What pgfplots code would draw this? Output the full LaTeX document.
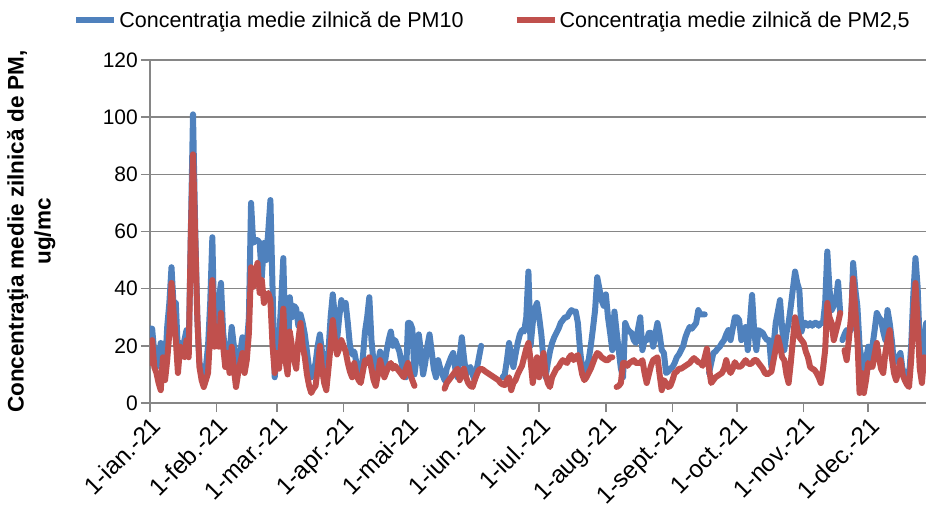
\documentclass[border=0pt]{standalone}
\usepackage{fontspec}
\setmainfont{Liberation Sans}
\usepackage{pgfplots}
\usepackage{pgfplotstable}
\pgfplotsset{compat=1.18}
\definecolor{pmblue}{HTML}{4F81BD}
\definecolor{pmred}{HTML}{C0504D}
\definecolor{gridgray}{HTML}{868686}

\pgfplotstableread{
day val
0 26
1 26
2 17.5
3 12.6
4 15
5 21
6 16
7 12.6
8 26.6
9 35
10 47.5
11 33.7
12 35
13 17.5
14 21
15 18
16 22
17 25.5
18 18.5
19 60
20 101
21 62
22 30
23 14
24 11.6
25 9
26 12.6
27 20
28 35
29 58
30 21
31 28
32 36
33 42
34 25
35 17.5
36 20
37 17.5
38 26.6
39 20
40 16
41 10.5
42 18
43 23
44 17.5
45 20
46 30
47 70
48 56
49 57
50 57
51 56
52 44
53 56
54 50
55 60
56 71
57 40
58 9
59 17.5
60 22
61 35
62 50.7
63 20
64 11
65 37
66 30
67 34
68 33
69 27
70 31
71 28
72 24
73 18
74 12
75 9
76 11
77 14
78 20
79 24
80 18
81 14
82 10
83 18
84 30
85 38
86 30
87 22
88 30
89 36
90 33
91 35
92 28
93 20
94 17
95 18
96 14
97 12
98 9
99 16
100 25
101 30
102 37
103 22
104 14
105 10
106 14
107 18
108 15
109 13
110 18
111 22
112 25
113 20
114 22
115 20
116 18
117 14
118 10
119 9
120 28
121 28
122 26
123 10
124 16
125 24
126 18
127 10
128 14
129 20
130 24
131 18
132 12
133 9
134 15
135 12
136 10
137 8
138 12
139 14
140 16
141 17.5
142 12
143 9
144 16
145 23
146 16
147 10
148 12
149 12.6
150 10
151 8
152 12
153 16
154 20
155 nan
164 9
165 10
166 15
167 21
168 16
169 12.6
170 17
171 21
172 24
173 25.5
174 25
175 30
176 46
177 20
178 28
179 33
180 35
181 30
182 24
183 15
184 9
185 14
186 18
187 21
188 23
189 24.5
190 26
191 28
192 29
193 30
194 30
195 31.5
196 32.5
197 32
198 32
199 28
200 18.5
201 12
202 10.5
203 13
204 15
205 20
206 26
207 32.5
208 44
209 40
210 36
211 34
212 38
213 30
214 24.5
215 18.5
216 32
217 25
218 18.5
219 12
220 9
221 28
222 26
223 25
224 24.5
225 22
226 21
227 26
228 30
229 18.5
230 22
231 22
232 24.5
233 24.5
234 19.7
235 24
236 28
237 24
238 18.5
239 17.5
240 10.5
241 11
242 12
243 12.6
244 14
245 16
246 17
247 18.5
248 20
249 23
250 25
251 26.6
252 26
253 27
254 28
255 32.5
256 31
257 31
258 31
259 nan
260 10.5
261 14
262 17.5
263 18
264 19
265 19.7
266 21
267 22
268 24
269 25.5
270 22
271 26
272 30
273 30
274 29
275 22
276 24
277 26.6
278 18.5
279 28
280 37.8
281 25
282 18.5
283 25.5
284 25
285 24.5
286 23
287 22
288 22
289 12.6
290 20
291 28
292 32
293 36
294 26
295 18.5
296 24.5
297 28
298 33.7
299 40
300 46
301 42
302 39.5
303 25
304 28
305 28
306 27
307 28
308 27
309 28
310 28
311 27
312 28
313 28
314 35
315 53
316 40
317 32.5
318 34
319 36
320 42.4
321 31.5
321.5 nan
322 22
323 24
324 25.5
325 25
326 25.5
327 49
328 40
329 33.7
330 20
331 15
332 10.5
333 15
334 19.7
335 12.6
336 20
337 25.5
338 31.5
339 30
340 29
341 25
342 22
343 32.5
344 28
345 22
346 14
347 15
348 16
349 17.5
350 11.6
351 11
352 10.5
353 9
354 20
355 38
356 50.7
357 40.6
358 20
359 10.5
360 22
361 28
}\pmten

\pgfplotstableread{
day val
0 14
1 22
2 12.6
3 10.5
4 7
5 4.5
6 16
7 8
8 15
9 24.5
10 42
11 31.5
12 22
13 10.5
14 19.7
15 17
16 16
17 22
18 16
19 59
20 87
21 59
22 30
23 12.6
24 8
25 5.6
26 8
27 10.5
28 24.5
29 43
30 19.7
31 26.6
32 19.7
33 31.5
34 20
35 12.6
36 17.5
37 10.5
38 19.7
39 12
40 5.6
41 10.5
42 14
43 17.5
44 10.5
45 15
46 24.5
47 47.5
48 40.6
49 45
50 49
51 38.5
52 43
53 35
54 37
55 38.5
56 36
57 20
58 10.5
59 17.5
60 12
61 20
62 33
63 15
64 10
65 25
66 20
67 15
68 12
69 22
70 28
71 20
72 16
73 10
74 6
75 3.5
76 5
77 6
78 12
79 20
80 12
81 7
82 4.5
83 12
84 20
85 29
86 22
87 17
88 19
89 22
90 20
91 18
92 14
93 11
94 9
95 14
96 10
97 8
98 7
99 11
100 15
101 14
102 16
103 12
104 8
105 6
106 10
107 15
108 12
109 9
110 11
111 13
112 14
113 12
114 13
115 12
116 11
117 10
118 9
119 12
120 14
121 10
122 8
123 6
124 nan
137 5
138 7
139 8
140 9
141 10
142 11
143 12
144 8
145 10
146 12
147 9
148 7
149 6
150 5.6
151 8
152 10
153 11.6
154 12
155 11.6
156 11
157 10.5
158 10
159 9.5
160 9
161 8.5
162 8
163 7
164 6.5
165 6.3
166 8
167 9
168 4.5
169 7
170 8
171 10
172 11.6
173 13
174 16
175 19
176 21
177 15
178 7
179 12
180 16
181 9
182 13
183 17.5
184 10
185 7
186 5.6
187 9
188 10.5
189 12
190 12.6
191 14
192 15
193 14.5
194 14
195 16
196 16.8
197 15
198 16
199 16.8
200 14
201 10
202 8
203 9
204 10.5
205 12
206 14
207 16
208 17.5
209 17
210 16
211 15.5
212 15
213 15
214 16
215 16
216 nan
217 5.6
218 6
219 7
220 14
221 14
222 13
223 14
224 14.5
225 15
226 14
227 14
228 14
229 15
230 10.5
231 7
232 10
233 13
234 15
235 15.5
236 16
237 10
238 4.5
239 8
240 7
241 5.6
242 6
243 8
244 10.5
245 11
246 12
247 12
248 12.5
249 13
250 13.5
251 14
252 15
253 15.7
254 15
255 14.3
256 14
257 13
258 16
259 19
260 12
261 7
262 8
263 9
264 9.5
265 10
266 10.5
267 12
268 15
269 12
270 10.5
271 12
272 14.3
273 13
274 12.6
275 13
276 14
277 15
278 14
279 13.6
280 14
281 15
282 15
283 14
284 13
285 12
286 10.5
287 10
288 10.5
289 11
290 15
291 19
292 23
293 20
294 16
295 15
296 10
297 7
298 14
299 22
300 30
301 26
302 23
303 22
304 21
305 18
306 16
307 12.6
308 12
309 11.6
310 10.5
311 9
312 7
313 12
314 18.5
315 35
316 30
317 28
318 22
319 25
320 28
321 31.5
322 nan
323 18.5
324 15
325 22
326 30
327 43.6
328 33
329 22
330 3.5
331 10.5
332 3.5
333 8
334 14
335 13
336 12.6
337 17
338 21
339 16
340 12
341 10.5
342 17.5
343 22
344 25.5
345 16
346 10.5
347 8
348 11
349 15
350 10
351 8
352 6.5
353 5.6
354 15
355 30
356 42
357 28
358 12
359 7
360 16
361 12
}\pmtwofive

\begin{document}
\begin{tikzpicture}
\begin{axis}[
  at={(0pt,0pt)}, anchor=south west,
  scale only axis, width=776pt, height=343pt,
  xmin=0, xmax=360.9, ymin=0, ymax=120,
  axis lines*=left,
  axis line style={gridgray, line width=1.5pt},
  ymajorgrids, grid style={gridgray, line width=1.5pt},
  ytick={0,20,...,120},
  xtick={0,31,59,90,120,151,181,212,243,273,304,334},
  xticklabels={1-ian.-21,1-feb.-21,1-mar.-21,1-apr.-21,1-mai-21,1-iun.-21,1-iul.-21,1-aug.-21,1-sept.-21,1-oct.-21,1-nov.-21,1-dec.-21},
  tick align=outside, major tick length=9pt,
  tick style={gridgray, line width=1.5pt},
  /pgf/number format/assume math mode=true,
  yticklabel style={font=\fontsize{21}{25}\selectfont, inner sep=3pt},
  xticklabel style={font=\fontsize{24.5}{29}\selectfont, rotate=45, anchor=north east, inner sep=2pt},
  ylabel={Concentraţia medie zilnică de PM,\\ug/mc},
  ylabel style={font=\bfseries\fontsize{22.5}{27}\selectfont, align=center, at={(axis description cs:-0.153,0.5)}, anchor=center},
  unbounded coords=jump,
  legend style={at={(axis description cs:-0.099,1.117)}, anchor=west, draw=none, fill=none,
    font=\fontsize{21.5}{26}\selectfont, inner sep=0pt, legend cell align=left,
    /tikz/every even column/.append style={column sep=48pt}},
  legend columns=2,
  legend image code/.code={\draw[#1, line width=6pt, line cap=butt] (0pt,0pt) -- (38pt,0pt);},
]
\addplot[pmblue, line width=6pt, line join=round, line cap=round] table[x=day, y=val] {\pmten};
\addlegendentry{Concentraţia medie zilnică de PM10}
\addplot[pmred, line width=6pt, line join=round, line cap=round] table[x=day, y=val] {\pmtwofive};
\addlegendentry{Concentraţia medie zilnică de PM2,5}
\end{axis}
\pgfresetboundingbox
\useasboundingbox (-150pt,-109pt) rectangle (776pt,403pt);
\end{tikzpicture}
\end{document}
